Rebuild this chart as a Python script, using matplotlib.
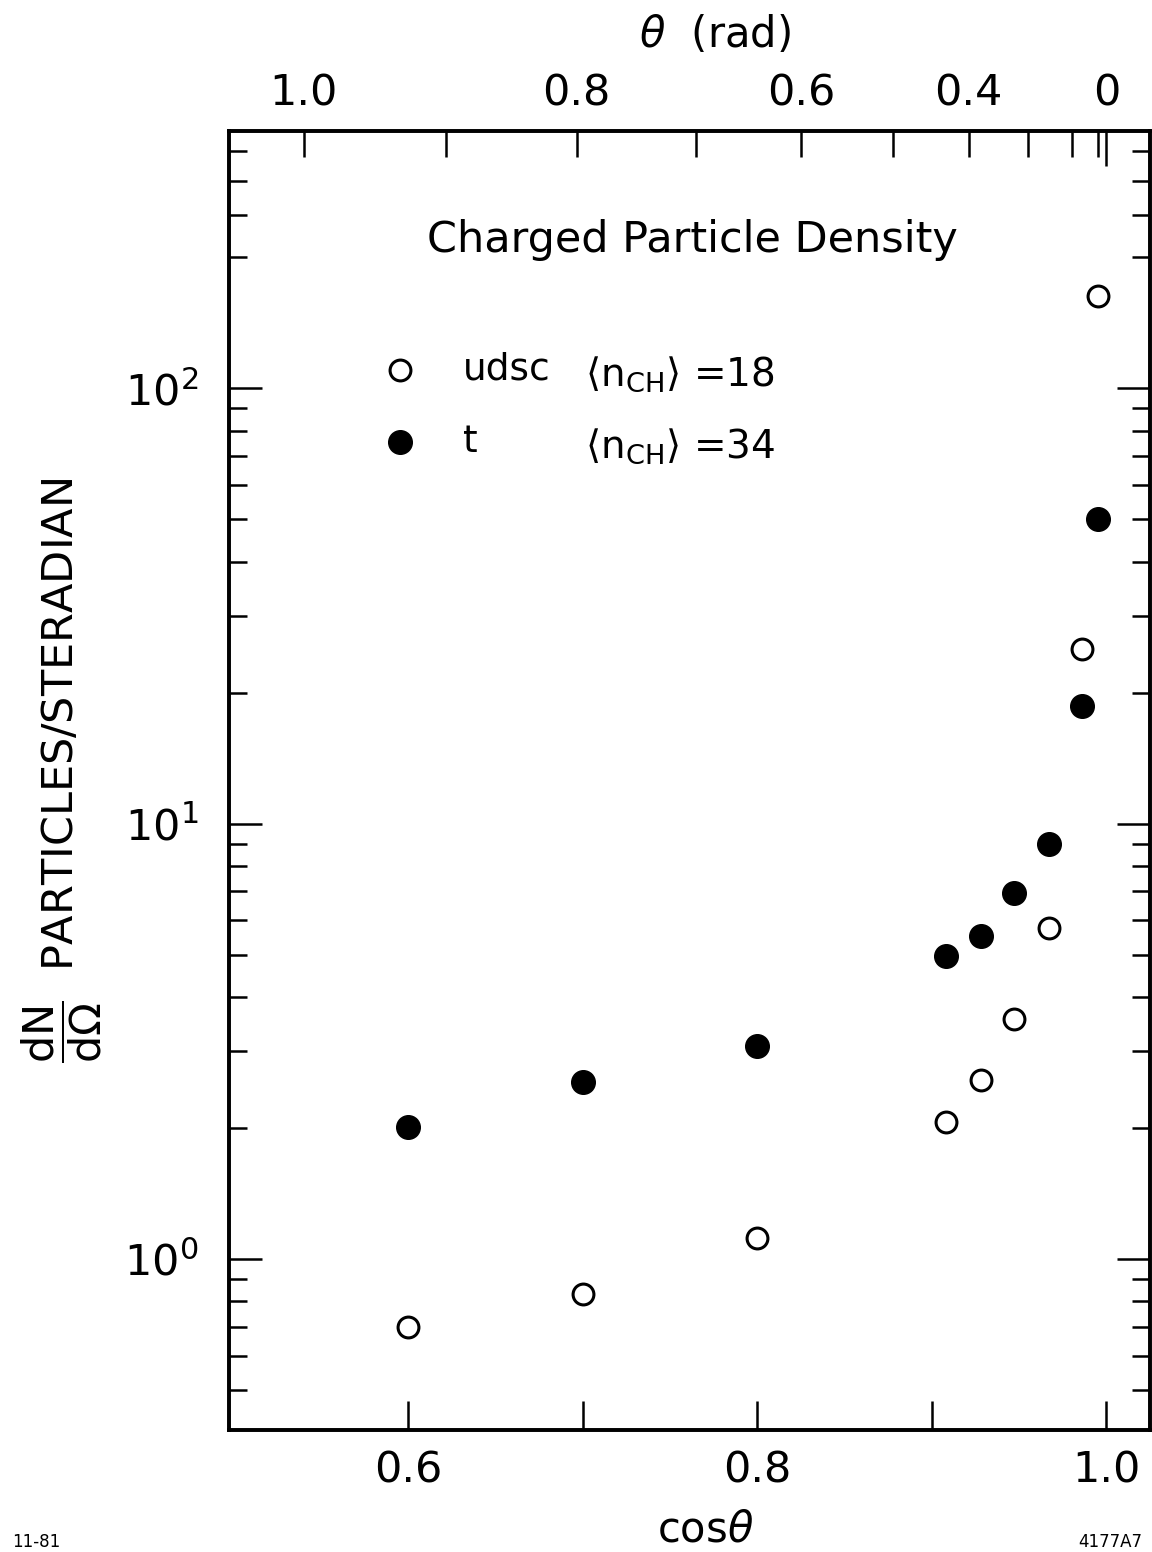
import numpy as np
import matplotlib
matplotlib.use('Agg')
import matplotlib.pyplot as plt
from matplotlib.ticker import FixedLocator, NullFormatter

# charged particle density vs cos(theta)
cos_theta = [0.6, 0.7, 0.8, 0.908, 0.928, 0.947, 0.967, 0.986, 0.995]
dens_udsc = [0.70, 0.83, 1.12, 2.06, 2.58, 3.56, 5.75, 25.2, 163]
dens_t = [2.01, 2.55, 3.08, 4.96, 5.52, 6.92, 8.97, 18.6, 50.0]

x_ticks = [0.6, 0.7, 0.8, 0.9, 1.0]
x_labels = ['0.6', '', '0.8', '', '1.0']
y_major = [1, 10, 100]
y_labels = [r'$\mathregular{10^0}$', r'$\mathregular{10^1}$', r'$\mathregular{10^2}$']
y_minor = [0.5, 0.6, 0.7, 0.8, 0.9, 2, 3, 4, 5, 6, 7, 8, 9,
           20, 30, 40, 50, 60, 70, 80, 90, 200, 250, 300, 350]
theta_ticks = [1.0, 0.9, 0.8, 0.7, 0.6, 0.5, 0.4, 0.3, 0.2, 0.1]
theta_labels = ['1.0', '', '0.8', '', '0.6', '', '0.4', '', '', '']

plt.rcParams['font.family'] = 'DejaVu Sans'
plt.rcParams['mathtext.fontset'] = 'dejavusans'

W, H = 1152, 1552
fig = plt.figure(figsize=(W / 100, H / 100), dpi=100)
ax = fig.add_axes([229 / W, 1 - 1430 / H, (1150 - 229) / W, (1430 - 131) / H])

ax.plot(cos_theta, dens_udsc, 'o', ms=15, mfc='white', mec='black', mew=2.2)
ax.plot(cos_theta, dens_t, 'o', ms=17, mfc='black', mec='black')

ax.set_yscale('log')
ax.set_xlim(0.4975, 1.025)
ax.set_ylim(0.405, 390)

ax.set_xticks(x_ticks)
ax.set_xticklabels(x_labels)
ax.set_yticks(y_major)
ax.set_yticklabels(y_labels)
ax.yaxis.set_minor_locator(FixedLocator(y_minor))
ax.yaxis.set_minor_formatter(NullFormatter())
ax.xaxis.set_minor_locator(FixedLocator([]))

ax.tick_params(axis='x', which='major', direction='in', length=21, width=1.8,
               labelsize=31, pad=14, top=False)
ax.tick_params(axis='y', which='major', direction='in', length=24, width=1.8,
               labelsize=31, pad=22, left=True, right=True)
ax.tick_params(axis='y', which='minor', direction='in', length=13, width=1.8,
               left=True, right=True)
for s in ax.spines.values():
    s.set_linewidth(2.6)

# theta scale along the top
ax2 = ax.twiny()
ax2.set_xlim(ax.get_xlim())
ax2.set_xticks(np.cos(theta_ticks))
ax2.set_xticklabels(theta_labels)
ax2.set_xticks([np.cos(0.0)], minor=True)
ax2.set_xticklabels(['0'], minor=True)
ax2.tick_params(axis='x', which='major', direction='in', length=19, width=1.8,
                labelsize=31, pad=12)
ax2.tick_params(axis='x', which='minor', direction='in', length=25, width=1.8,
                labelsize=31, pad=12)
for s in ax2.spines.values():
    s.set_linewidth(2.6)

ax.text((692 - 229) / 921, (1430 - 240) / 1299, 'Charged Particle Density',
        transform=ax.transAxes, ha='center', va='center', fontsize=31)

# key
ax.plot([(400 - 229) / 921], [(1430 - 370) / 1299], 'o', ms=15, mfc='white',
        mec='black', mew=2.2, transform=ax.transAxes, clip_on=False)
ax.plot([(400 - 229) / 921], [(1430 - 442) / 1299], 'o', ms=17, mfc='black',
        mec='black', transform=ax.transAxes, clip_on=False)
ax.text((463 - 229) / 921, (1430 - 370) / 1299, 'udsc', transform=ax.transAxes,
        ha='left', va='center', fontsize=27)
ax.text((463 - 229) / 921, (1430 - 442) / 1299, 't', transform=ax.transAxes,
        ha='left', va='center', fontsize=27)
ax.text((585 - 229) / 921, (1430 - 374) / 1299,
        r'$\left\langle \mathregular{n_{CH}} \right\rangle$ =18',
        transform=ax.transAxes, ha='left', va='center', fontsize=28)
ax.text((585 - 229) / 921, (1430 - 446) / 1299,
        r'$\left\langle \mathregular{n_{CH}} \right\rangle$ =34',
        transform=ax.transAxes, ha='left', va='center', fontsize=28)

fig.text(715 / W, 1 - 35 / H, r'$\theta$  (rad)', ha='center', va='center', fontsize=30)
fig.text(705 / W, 1 - 1530 / H, r'cos$\theta$', ha='center', va='center', fontsize=30)
fig.text(62 / W, 1 - 770 / H,
         r'$\mathregular{\dfrac{dN}{d\Omega}}$  PARTICLES/STERADIAN',
         rotation=90, ha='center', va='center', fontsize=31)
fig.text(12 / W, 1 - 1542 / H, '11-81', ha='left', va='center', fontsize=12)
fig.text(1078 / W, 1 - 1542 / H, '4177A7', ha='left', va='center', fontsize=12)

fig.savefig('out.png', dpi=100)
